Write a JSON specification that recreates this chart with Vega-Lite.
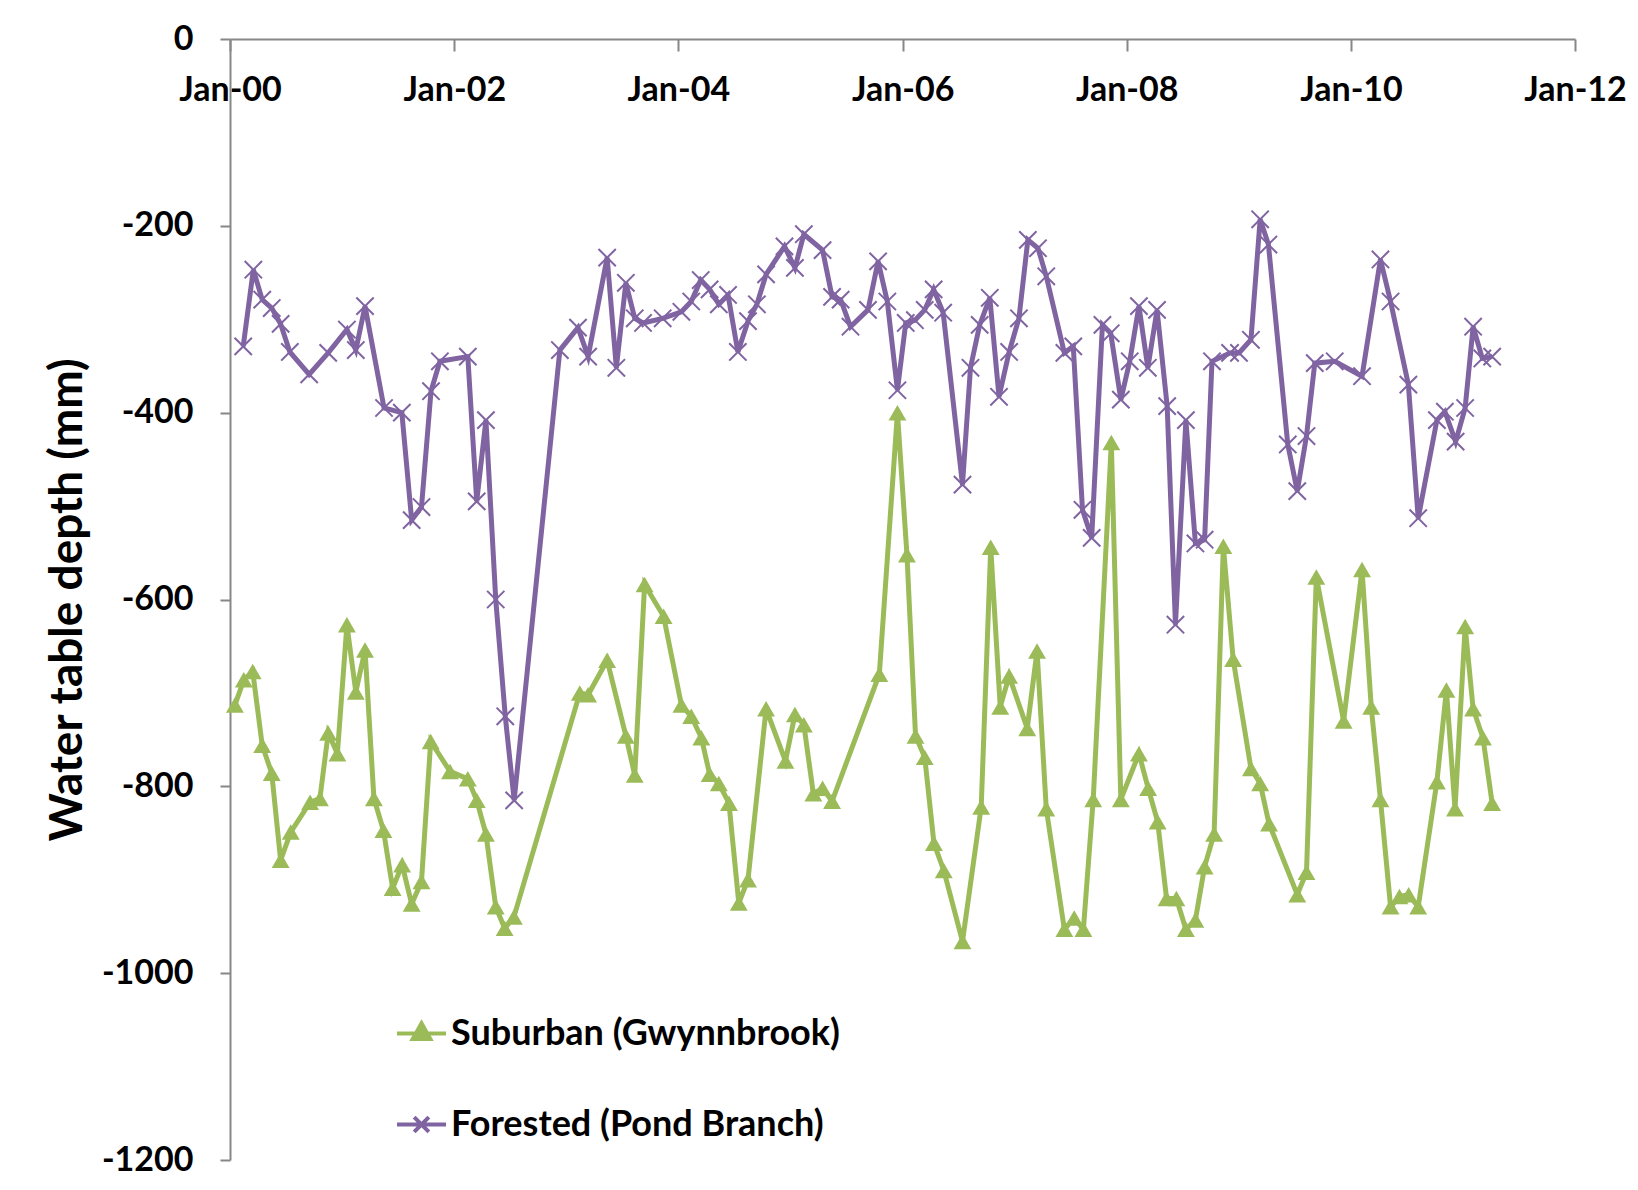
{
 "$schema": "https://vega.github.io/schema/vega-lite/v6.json",
 "width": 1345, "height": 1121,
 "padding": {"left": 230, "top": 39, "right": 63, "bottom": 30},
 "autosize": {"type": "none"},
 "background": "white",
 "config": {"view": {"stroke": null}, "font": "Lato"},
 "datasets": {
  "raw": [
   {"site":"Forested (Pond Branch)","date":"2000-02-13","depth":-329},{"site":"Forested (Pond Branch)","date":"2000-03-17","depth":-247},{"site":"Forested (Pond Branch)","date":"2000-04-15","depth":-279},{"site":"Forested (Pond Branch)","date":"2000-05-16","depth":-288},{"site":"Forested (Pond Branch)","date":"2000-06-14","depth":-305},{"site":"Forested (Pond Branch)","date":"2000-07-14","depth":-335},{"site":"Forested (Pond Branch)","date":"2000-09-15","depth":-359},{"site":"Forested (Pond Branch)","date":"2000-11-16","depth":-336},{"site":"Forested (Pond Branch)","date":"2001-01-16","depth":-311},{"site":"Forested (Pond Branch)","date":"2001-02-14","depth":-333},{"site":"Forested (Pond Branch)","date":"2001-03-16","depth":-286},{"site":"Forested (Pond Branch)","date":"2001-05-17","depth":-395},{"site":"Forested (Pond Branch)","date":"2001-07-14","depth":-400},{"site":"Forested (Pond Branch)","date":"2001-08-15","depth":-515},{"site":"Forested (Pond Branch)","date":"2001-09-16","depth":-501},{"site":"Forested (Pond Branch)","date":"2001-10-17","depth":-377},{"site":"Forested (Pond Branch)","date":"2001-11-15","depth":-345},{"site":"Forested (Pond Branch)","date":"2002-02-14","depth":-340},{"site":"Forested (Pond Branch)","date":"2002-03-15","depth":-495},{"site":"Forested (Pond Branch)","date":"2002-04-14","depth":-408},{"site":"Forested (Pond Branch)","date":"2002-05-16","depth":-600},{"site":"Forested (Pond Branch)","date":"2002-06-16","depth":-725},{"site":"Forested (Pond Branch)","date":"2002-07-15","depth":-815},{"site":"Forested (Pond Branch)","date":"2002-12-11","depth":-333},{"site":"Forested (Pond Branch)","date":"2003-02-08","depth":-309},{"site":"Forested (Pond Branch)","date":"2003-03-13","depth":-340},{"site":"Forested (Pond Branch)","date":"2003-05-14","depth":-234},{"site":"Forested (Pond Branch)","date":"2003-06-13","depth":-352},{"site":"Forested (Pond Branch)","date":"2003-07-14","depth":-261},{"site":"Forested (Pond Branch)","date":"2003-08-12","depth":-299},{"site":"Forested (Pond Branch)","date":"2003-09-08","depth":-304},{"site":"Forested (Pond Branch)","date":"2003-11-11","depth":-299},{"site":"Forested (Pond Branch)","date":"2004-01-11","depth":-292},{"site":"Forested (Pond Branch)","date":"2004-02-12","depth":-281},{"site":"Forested (Pond Branch)","date":"2004-03-14","depth":-258},{"site":"Forested (Pond Branch)","date":"2004-04-12","depth":-268},{"site":"Forested (Pond Branch)","date":"2004-05-12","depth":-284},{"site":"Forested (Pond Branch)","date":"2004-06-11","depth":-274},{"site":"Forested (Pond Branch)","date":"2004-07-13","depth":-335},{"site":"Forested (Pond Branch)","date":"2004-08-15","depth":-302},{"site":"Forested (Pond Branch)","date":"2004-09-13","depth":-284},{"site":"Forested (Pond Branch)","date":"2004-10-13","depth":-252},{"site":"Forested (Pond Branch)","date":"2004-12-12","depth":-222},{"site":"Forested (Pond Branch)","date":"2005-01-15","depth":-245},{"site":"Forested (Pond Branch)","date":"2005-02-13","depth":-209},{"site":"Forested (Pond Branch)","date":"2005-04-15","depth":-226},{"site":"Forested (Pond Branch)","date":"2005-05-16","depth":-276},{"site":"Forested (Pond Branch)","date":"2005-06-13","depth":-279},{"site":"Forested (Pond Branch)","date":"2005-07-15","depth":-308},{"site":"Forested (Pond Branch)","date":"2005-09-10","depth":-290},{"site":"Forested (Pond Branch)","date":"2005-10-13","depth":-238},{"site":"Forested (Pond Branch)","date":"2005-11-12","depth":-281},{"site":"Forested (Pond Branch)","date":"2005-12-15","depth":-376},{"site":"Forested (Pond Branch)","date":"2006-01-11","depth":-304},{"site":"Forested (Pond Branch)","date":"2006-02-10","depth":-301},{"site":"Forested (Pond Branch)","date":"2006-03-14","depth":-290},{"site":"Forested (Pond Branch)","date":"2006-04-12","depth":-268},{"site":"Forested (Pond Branch)","date":"2006-05-13","depth":-293},{"site":"Forested (Pond Branch)","date":"2006-07-15","depth":-477},{"site":"Forested (Pond Branch)","date":"2006-08-10","depth":-352},{"site":"Forested (Pond Branch)","date":"2006-09-09","depth":-306},{"site":"Forested (Pond Branch)","date":"2006-10-12","depth":-277},{"site":"Forested (Pond Branch)","date":"2006-11-11","depth":-383},{"site":"Forested (Pond Branch)","date":"2006-12-14","depth":-335},{"site":"Forested (Pond Branch)","date":"2007-01-15","depth":-299},{"site":"Forested (Pond Branch)","date":"2007-02-13","depth":-215},{"site":"Forested (Pond Branch)","date":"2007-03-18","depth":-224},{"site":"Forested (Pond Branch)","date":"2007-04-14","depth":-254},{"site":"Forested (Pond Branch)","date":"2007-06-12","depth":-336},{"site":"Forested (Pond Branch)","date":"2007-07-11","depth":-329},{"site":"Forested (Pond Branch)","date":"2007-08-10","depth":-504},{"site":"Forested (Pond Branch)","date":"2007-09-09","depth":-534},{"site":"Forested (Pond Branch)","date":"2007-10-14","depth":-306},{"site":"Forested (Pond Branch)","date":"2007-11-10","depth":-315},{"site":"Forested (Pond Branch)","date":"2007-12-13","depth":-386},{"site":"Forested (Pond Branch)","date":"2008-01-11","depth":-345},{"site":"Forested (Pond Branch)","date":"2008-02-10","depth":-286},{"site":"Forested (Pond Branch)","date":"2008-03-10","depth":-352},{"site":"Forested (Pond Branch)","date":"2008-04-09","depth":-290},{"site":"Forested (Pond Branch)","date":"2008-05-12","depth":-393},{"site":"Forested (Pond Branch)","date":"2008-06-08","depth":-627},{"site":"Forested (Pond Branch)","date":"2008-07-12","depth":-408},{"site":"Forested (Pond Branch)","date":"2008-08-12","depth":-540},{"site":"Forested (Pond Branch)","date":"2008-09-11","depth":-536},{"site":"Forested (Pond Branch)","date":"2008-10-05","depth":-345},{"site":"Forested (Pond Branch)","date":"2008-12-03","depth":-336},{"site":"Forested (Pond Branch)","date":"2009-01-01","depth":-336},{"site":"Forested (Pond Branch)","date":"2009-02-09","depth":-322},{"site":"Forested (Pond Branch)","date":"2009-03-11","depth":-193},{"site":"Forested (Pond Branch)","date":"2009-04-07","depth":-220},{"site":"Forested (Pond Branch)","date":"2009-06-09","depth":-434},{"site":"Forested (Pond Branch)","date":"2009-07-10","depth":-484},{"site":"Forested (Pond Branch)","date":"2009-08-09","depth":-425},{"site":"Forested (Pond Branch)","date":"2009-09-05","depth":-347},{"site":"Forested (Pond Branch)","date":"2009-11-09","depth":-345},{"site":"Forested (Pond Branch)","date":"2010-02-06","depth":-361},{"site":"Forested (Pond Branch)","date":"2010-04-07","depth":-236},{"site":"Forested (Pond Branch)","date":"2010-05-10","depth":-281},{"site":"Forested (Pond Branch)","date":"2010-07-07","depth":-370},{"site":"Forested (Pond Branch)","date":"2010-08-08","depth":-513},{"site":"Forested (Pond Branch)","date":"2010-10-08","depth":-408},{"site":"Forested (Pond Branch)","date":"2010-11-03","depth":-399},{"site":"Forested (Pond Branch)","date":"2010-12-08","depth":-431},{"site":"Forested (Pond Branch)","date":"2011-01-08","depth":-395},{"site":"Forested (Pond Branch)","date":"2011-02-03","depth":-308},{"site":"Forested (Pond Branch)","date":"2011-03-05","depth":-342},{"site":"Forested (Pond Branch)","date":"2011-04-06","depth":-340},
   {"site":"Suburban (Gwynnbrook)","date":"2000-01-17","depth":-713},{"site":"Suburban (Gwynnbrook)","date":"2000-02-15","depth":-686},{"site":"Suburban (Gwynnbrook)","date":"2000-03-15","depth":-677},{"site":"Suburban (Gwynnbrook)","date":"2000-04-15","depth":-756},{"site":"Suburban (Gwynnbrook)","date":"2000-05-16","depth":-786},{"site":"Suburban (Gwynnbrook)","date":"2000-06-14","depth":-879},{"site":"Suburban (Gwynnbrook)","date":"2000-07-17","depth":-849},{"site":"Suburban (Gwynnbrook)","date":"2000-09-18","depth":-817},{"site":"Suburban (Gwynnbrook)","date":"2000-10-20","depth":-813},{"site":"Suburban (Gwynnbrook)","date":"2000-11-16","depth":-743},{"site":"Suburban (Gwynnbrook)","date":"2000-12-16","depth":-765},{"site":"Suburban (Gwynnbrook)","date":"2001-01-16","depth":-627},{"site":"Suburban (Gwynnbrook)","date":"2001-02-14","depth":-699},{"site":"Suburban (Gwynnbrook)","date":"2001-03-16","depth":-654},{"site":"Suburban (Gwynnbrook)","date":"2001-04-14","depth":-813},{"site":"Suburban (Gwynnbrook)","date":"2001-05-15","depth":-847},{"site":"Suburban (Gwynnbrook)","date":"2001-06-14","depth":-909},{"site":"Suburban (Gwynnbrook)","date":"2001-07-15","depth":-884},{"site":"Suburban (Gwynnbrook)","date":"2001-08-15","depth":-926},{"site":"Suburban (Gwynnbrook)","date":"2001-09-16","depth":-902},{"site":"Suburban (Gwynnbrook)","date":"2001-10-16","depth":-752},{"site":"Suburban (Gwynnbrook)","date":"2001-12-18","depth":-784},{"site":"Suburban (Gwynnbrook)","date":"2002-02-14","depth":-792},{"site":"Suburban (Gwynnbrook)","date":"2002-03-15","depth":-815},{"site":"Suburban (Gwynnbrook)","date":"2002-04-14","depth":-851},{"site":"Suburban (Gwynnbrook)","date":"2002-05-16","depth":-929},{"site":"Suburban (Gwynnbrook)","date":"2002-06-14","depth":-952},{"site":"Suburban (Gwynnbrook)","date":"2002-07-14","depth":-940},{"site":"Suburban (Gwynnbrook)","date":"2003-02-14","depth":-700},{"site":"Suburban (Gwynnbrook)","date":"2003-03-13","depth":-702},{"site":"Suburban (Gwynnbrook)","date":"2003-05-14","depth":-665},{"site":"Suburban (Gwynnbrook)","date":"2003-07-14","depth":-746},{"site":"Suburban (Gwynnbrook)","date":"2003-08-12","depth":-788},{"site":"Suburban (Gwynnbrook)","date":"2003-09-13","depth":-584},{"site":"Suburban (Gwynnbrook)","date":"2003-11-14","depth":-618},{"site":"Suburban (Gwynnbrook)","date":"2004-01-11","depth":-713},{"site":"Suburban (Gwynnbrook)","date":"2004-02-12","depth":-725},{"site":"Suburban (Gwynnbrook)","date":"2004-03-16","depth":-748},{"site":"Suburban (Gwynnbrook)","date":"2004-04-12","depth":-787},{"site":"Suburban (Gwynnbrook)","date":"2004-05-12","depth":-797},{"site":"Suburban (Gwynnbrook)","date":"2004-06-14","depth":-818},{"site":"Suburban (Gwynnbrook)","date":"2004-07-16","depth":-925},{"site":"Suburban (Gwynnbrook)","date":"2004-08-15","depth":-900},{"site":"Suburban (Gwynnbrook)","date":"2004-10-13","depth":-717},{"site":"Suburban (Gwynnbrook)","date":"2004-12-15","depth":-773},{"site":"Suburban (Gwynnbrook)","date":"2005-01-15","depth":-723},{"site":"Suburban (Gwynnbrook)","date":"2005-02-13","depth":-734},{"site":"Suburban (Gwynnbrook)","date":"2005-03-16","depth":-808},{"site":"Suburban (Gwynnbrook)","date":"2005-04-15","depth":-802},{"site":"Suburban (Gwynnbrook)","date":"2005-05-16","depth":-816},{"site":"Suburban (Gwynnbrook)","date":"2005-10-17","depth":-680},{"site":"Suburban (Gwynnbrook)","date":"2005-12-15","depth":-400},{"site":"Suburban (Gwynnbrook)","date":"2006-01-15","depth":-552},{"site":"Suburban (Gwynnbrook)","date":"2006-02-12","depth":-746},{"site":"Suburban (Gwynnbrook)","date":"2006-03-14","depth":-769},{"site":"Suburban (Gwynnbrook)","date":"2006-04-13","depth":-861},{"site":"Suburban (Gwynnbrook)","date":"2006-05-15","depth":-890},{"site":"Suburban (Gwynnbrook)","date":"2006-07-15","depth":-966},{"site":"Suburban (Gwynnbrook)","date":"2006-09-14","depth":-822},{"site":"Suburban (Gwynnbrook)","date":"2006-10-15","depth":-544},{"site":"Suburban (Gwynnbrook)","date":"2006-11-15","depth":-715},{"site":"Suburban (Gwynnbrook)","date":"2006-12-14","depth":-682},{"site":"Suburban (Gwynnbrook)","date":"2007-02-11","depth":-738},{"site":"Suburban (Gwynnbrook)","date":"2007-03-15","depth":-655},{"site":"Suburban (Gwynnbrook)","date":"2007-04-14","depth":-824},{"site":"Suburban (Gwynnbrook)","date":"2007-06-12","depth":-953},{"site":"Suburban (Gwynnbrook)","date":"2007-07-14","depth":-941},{"site":"Suburban (Gwynnbrook)","date":"2007-08-13","depth":-953},{"site":"Suburban (Gwynnbrook)","date":"2007-09-14","depth":-814},{"site":"Suburban (Gwynnbrook)","date":"2007-11-12","depth":-432},{"site":"Suburban (Gwynnbrook)","date":"2007-12-13","depth":-814},{"site":"Suburban (Gwynnbrook)","date":"2008-02-10","depth":-765},{"site":"Suburban (Gwynnbrook)","date":"2008-03-11","depth":-802},{"site":"Suburban (Gwynnbrook)","date":"2008-04-11","depth":-838},{"site":"Suburban (Gwynnbrook)","date":"2008-05-10","depth":-920},{"site":"Suburban (Gwynnbrook)","date":"2008-06-11","depth":-920},{"site":"Suburban (Gwynnbrook)","date":"2008-07-12","depth":-953},{"site":"Suburban (Gwynnbrook)","date":"2008-08-12","depth":-943},{"site":"Suburban (Gwynnbrook)","date":"2008-09-11","depth":-886},{"site":"Suburban (Gwynnbrook)","date":"2008-10-12","depth":-851},{"site":"Suburban (Gwynnbrook)","date":"2008-11-11","depth":-543},{"site":"Suburban (Gwynnbrook)","date":"2008-12-13","depth":-664},{"site":"Suburban (Gwynnbrook)","date":"2009-02-09","depth":-781},{"site":"Suburban (Gwynnbrook)","date":"2009-03-11","depth":-797},{"site":"Suburban (Gwynnbrook)","date":"2009-04-09","depth":-840},{"site":"Suburban (Gwynnbrook)","date":"2009-07-10","depth":-916},{"site":"Suburban (Gwynnbrook)","date":"2009-08-09","depth":-892},{"site":"Suburban (Gwynnbrook)","date":"2009-09-10","depth":-576},{"site":"Suburban (Gwynnbrook)","date":"2009-12-08","depth":-730},{"site":"Suburban (Gwynnbrook)","date":"2010-02-06","depth":-568},{"site":"Suburban (Gwynnbrook)","date":"2010-03-08","depth":-715},{"site":"Suburban (Gwynnbrook)","date":"2010-04-07","depth":-814},{"site":"Suburban (Gwynnbrook)","date":"2010-05-10","depth":-929},{"site":"Suburban (Gwynnbrook)","date":"2010-06-08","depth":-918},{"site":"Suburban (Gwynnbrook)","date":"2010-07-08","depth":-916},{"site":"Suburban (Gwynnbrook)","date":"2010-08-08","depth":-929},{"site":"Suburban (Gwynnbrook)","date":"2010-10-08","depth":-795},{"site":"Suburban (Gwynnbrook)","date":"2010-11-08","depth":-697},{"site":"Suburban (Gwynnbrook)","date":"2010-12-06","depth":-824},{"site":"Suburban (Gwynnbrook)","date":"2011-01-08","depth":-629},{"site":"Suburban (Gwynnbrook)","date":"2011-02-03","depth":-717},{"site":"Suburban (Gwynnbrook)","date":"2011-03-07","depth":-748},{"site":"Suburban (Gwynnbrook)","date":"2011-04-06","depth":-818}
  ]
 },
 "data": {"name": "raw"},
 "encoding": {
  "x": {"field": "date", "type": "temporal",
   "scale": {"type": "utc", "domain": [{"year": 2000, "month": 1, "date": 1, "utc": true}, {"year": 2012, "month": 1, "date": 1, "utc": true}]},
   "axis": {"orient": "bottom", "offset": -1121, "title": null, "grid": false,
    "values": [{"year": 2000, "month": 1, "date": 1, "utc": true}, {"year": 2002, "month": 1, "date": 1, "utc": true}, {"year": 2004, "month": 1, "date": 1, "utc": true}, {"year": 2006, "month": 1, "date": 1, "utc": true}, {"year": 2008, "month": 1, "date": 1, "utc": true}, {"year": 2010, "month": 1, "date": 1, "utc": true}, {"year": 2012, "month": 1, "date": 1, "utc": true}],
    "labelExpr": "utcFormat(datum.value, '%b-%y')",
    "domainColor": "#878787", "domainWidth": 2, "tickColor": "#878787", "tickWidth": 2, "tickSize": 12,
    "labelFontSize": 34, "labelFontWeight": "bold", "labelColor": "black", "labelPadding": 22, "labelFlush": false, "labelOverlap": false}},
  "y": {"field": "depth", "type": "quantitative",
   "scale": {"domain": [-1200, 0], "nice": false, "zero": false},
   "axis": {"values": [0, -200, -400, -600, -800, -1000, -1200], "title": "Water table depth (mm)", "grid": false,
    "labelExpr": "datum.value + ''",
    "titleFontSize": 46, "titleFontWeight": "bold", "titleColor": "black", "titlePadding": 10,
    "labelFontSize": 34, "labelFontWeight": "bold", "labelColor": "black", "labelPadding": 27, "labelFlush": false,
    "tickSize": 10, "tickColor": "#878787", "tickWidth": 2, "domainColor": "#878787", "domainWidth": 2}}
 },
 "layer": [
  {"mark": {"type": "line", "strokeWidth": 5},
   "encoding": {"color": {"field": "site", "type": "nominal",
    "scale": {"domain": ["Suburban (Gwynnbrook)", "Forested (Pond Branch)"], "range": ["#9BBB59", "#8064A2"]},
    "legend": {"orient": "none", "legendX": 165, "legendY": 968, "title": null, "direction": "vertical",
     "labelFontSize": 36, "labelFontWeight": "bold", "labelColor": "black", "labelLimit": 1000, "labelOffset": 3,
     "symbolSize": 2400, "symbolStrokeWidth": 4, "rowPadding": 46,
     "encode": {"symbols": {"update": {
      "shape": {"signal": "datum.value == 'Suburban (Gwynnbrook)' ? 'M-1,0H1M0,-0.42L0.36,0.22L-0.36,0.22Z' : 'M-1,0H1M-0.3,-0.3L0.3,0.3M-0.3,0.3L0.3,-0.3'"},
      "fill": {"signal": "datum.value == 'Suburban (Gwynnbrook)' ? '#9BBB59' : 'transparent'"}}}}}}}},
  {"transform": [{"filter": "datum.site == 'Suburban (Gwynnbrook)'"}],
   "mark": {"type": "point", "shape": "triangle-up", "filled": true, "size": 320, "color": "#9BBB59", "opacity": 1}},
  {"transform": [{"filter": "datum.site == 'Forested (Pond Branch)'"}],
   "mark": {"type": "point", "shape": "M-1,-1L1,1M-1,1L1,-1", "filled": false, "size": 300, "color": "#8064A2", "strokeWidth": 2, "opacity": 1}}
 ]
}
